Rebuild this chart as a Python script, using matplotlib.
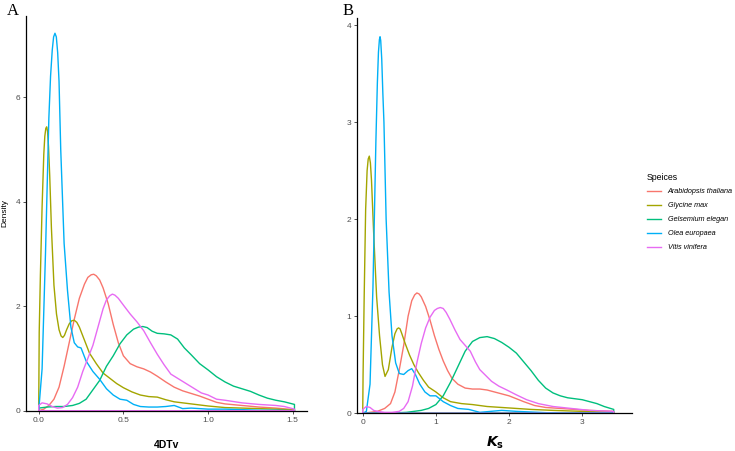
import numpy as np
import matplotlib
matplotlib.use("Agg")
import matplotlib.pyplot as plt
from matplotlib.lines import Line2D

plt.rcParams['font.family'] = ['Liberation Sans', 'DejaVu Sans']

species = ["Arabidopsis thaliana", "Glycine max", "Gelsemium elegan",
           "Olea europaea", "Vitis vinifera"]
colors = ['#F8766D', '#A3A500', '#00BF7D', '#00B0F6', '#E76BF3']

# ---- panel A: 4DTv densities ----
a_ara_x = [0.0, 0.03, 0.06, 0.09, 0.12, 0.15, 0.18, 0.21, 0.24, 0.27, 0.29, 0.31, 0.325, 0.34,
           0.36, 0.38, 0.41, 0.44, 0.47, 0.50, 0.54, 0.58, 0.62, 0.66, 0.70, 0.75, 0.80, 0.85,
           0.90, 0.95, 1.0, 1.05, 1.1, 1.2, 1.3, 1.4, 1.51]
a_ara_y = [0.0, 0.03, 0.1, 0.22, 0.45, 0.85, 1.3, 1.75, 2.15, 2.42, 2.55, 2.6, 2.61, 2.58,
           2.5, 2.35, 2.05, 1.65, 1.3, 1.05, 0.9, 0.84, 0.8, 0.74, 0.66, 0.55, 0.45, 0.38,
           0.33, 0.28, 0.22, 0.16, 0.13, 0.1, 0.07, 0.05, 0.02]

a_gly_x = [0.0, 0.003, 0.01, 0.02, 0.03, 0.036, 0.042, 0.047, 0.052, 0.058, 0.065, 0.075, 0.09,
           0.105, 0.12, 0.132, 0.142, 0.152, 0.165, 0.18, 0.195, 0.21, 0.225, 0.24, 0.27, 0.30,
           0.34, 0.38, 0.42, 0.46, 0.50, 0.55, 0.60, 0.65, 0.70, 0.75, 0.80, 0.85, 0.90, 1.0,
           1.1, 1.2, 1.3, 1.4, 1.51]
a_gly_y = [0.0, 1.5, 2.6, 3.9, 4.9, 5.25, 5.4, 5.43, 5.35, 5.05, 4.5, 3.5, 2.4,
           1.85, 1.55, 1.43, 1.40, 1.44, 1.55, 1.66, 1.72, 1.73, 1.69, 1.6, 1.35, 1.1,
           0.9, 0.72, 0.62, 0.52, 0.44, 0.36, 0.30, 0.27, 0.26, 0.21, 0.17, 0.15, 0.13, 0.09,
           0.06, 0.05, 0.04, 0.03, 0.01]

a_gel_x = [0.0, 0.05, 0.10, 0.15, 0.20, 0.24, 0.28, 0.32, 0.36, 0.40, 0.44, 0.48, 0.52, 0.56,
           0.59, 0.615, 0.64, 0.67, 0.70, 0.74, 0.78, 0.82, 0.86, 0.90, 0.95, 1.0, 1.05, 1.1,
           1.15, 1.2, 1.25, 1.3, 1.35, 1.4, 1.45, 1.51]
a_gel_y = [0.05, 0.07, 0.08, 0.08, 0.1, 0.14, 0.22, 0.4, 0.58, 0.85, 1.05, 1.28, 1.45, 1.56,
           1.6, 1.61, 1.59, 1.52, 1.48, 1.47, 1.45, 1.37, 1.2, 1.07, 0.9, 0.78, 0.65, 0.55,
           0.47, 0.42, 0.37, 0.3, 0.24, 0.2, 0.17, 0.12]

a_ole_x = [0.0, 0.02, 0.04, 0.06, 0.07, 0.08, 0.088, 0.096, 0.104, 0.112, 0.12, 0.13, 0.15,
           0.17, 0.19, 0.21, 0.23, 0.25, 0.28, 0.32, 0.36, 0.40, 0.44, 0.48, 0.52, 0.56, 0.60,
           0.65, 0.70, 0.75, 0.80, 0.85, 0.90, 1.0, 1.1, 1.2, 1.3, 1.4, 1.51]
a_ole_y = [0.0, 0.8, 3.0, 5.6, 6.4, 6.9, 7.15, 7.22, 7.15, 6.85, 6.3, 5.0, 3.2,
           2.3, 1.6, 1.3, 1.22, 1.2, 0.95, 0.75, 0.6, 0.42, 0.3, 0.22, 0.2, 0.12, 0.08,
           0.07, 0.07, 0.08, 0.1, 0.04, 0.05, 0.03, 0.03, 0.02, 0.01, 0.01, 0.0]

a_vit_x = [0.0, 0.02, 0.05, 0.08, 0.11, 0.14, 0.17, 0.20, 0.23, 0.26, 0.29, 0.32, 0.35, 0.38,
           0.40, 0.42, 0.435, 0.45, 0.47, 0.50, 0.54, 0.58, 0.62, 0.66, 0.70, 0.74, 0.78, 0.82,
           0.87, 0.92, 0.96, 1.0, 1.05, 1.1, 1.2, 1.3, 1.4, 1.45, 1.51]
a_vit_y = [0.1, 0.15, 0.13, 0.08, 0.05, 0.06, 0.12, 0.25, 0.45, 0.75, 1.0, 1.25, 1.6, 1.95,
           2.12, 2.2, 2.23, 2.21, 2.15, 2.02, 1.85, 1.7, 1.53, 1.3, 1.08, 0.88, 0.7, 0.62,
           0.52, 0.42, 0.34, 0.3, 0.22, 0.2, 0.15, 0.12, 0.1, 0.08, 0.03]

# ---- panel B: Ks densities ----
b_ara_x = [0.0, 0.1, 0.2, 0.3, 0.38, 0.44, 0.50, 0.56, 0.62, 0.67, 0.71, 0.74, 0.77, 0.80, 0.86,
           0.92, 0.98, 1.04, 1.1, 1.16, 1.22, 1.3, 1.4, 1.5, 1.6, 1.7, 1.8, 1.9, 2.0, 2.1, 2.2,
           2.35, 2.5, 2.7, 2.9, 3.1, 3.43]
b_ara_y = [0.0, 0.01, 0.02, 0.05, 0.1, 0.22, 0.45, 0.7, 1.0, 1.16, 1.22, 1.24, 1.23, 1.2, 1.1,
           0.96, 0.8, 0.66, 0.54, 0.44, 0.36, 0.3, 0.26, 0.25, 0.25, 0.24, 0.22, 0.2, 0.18, 0.15,
           0.12, 0.08, 0.06, 0.05, 0.04, 0.03, 0.02]

b_gly_x = [0.0, 0.005, 0.02, 0.04, 0.06, 0.075, 0.09, 0.105, 0.12, 0.15, 0.19, 0.23, 0.27,
           0.305, 0.35, 0.40, 0.44, 0.47, 0.49, 0.51, 0.53, 0.58, 0.64, 0.70, 0.76, 0.83, 0.90,
           1.0, 1.1, 1.2, 1.35, 1.5, 1.7, 1.9, 2.1, 2.3, 2.6, 3.0, 3.43]
b_gly_y = [0.0, 0.4, 1.2, 2.1, 2.5, 2.62, 2.65, 2.58, 2.4, 1.85, 1.2, 0.8, 0.5,
           0.38, 0.45, 0.68, 0.82, 0.87, 0.88, 0.87, 0.83, 0.72, 0.6, 0.5, 0.42, 0.34, 0.27,
           0.22, 0.16, 0.12, 0.1, 0.09, 0.07, 0.06, 0.05, 0.04, 0.03, 0.02, 0.01]

b_gel_x = [0.0, 0.3, 0.6, 0.8, 0.9, 1.0, 1.1, 1.2, 1.3, 1.4, 1.5, 1.6, 1.7, 1.8, 1.9, 2.0, 2.1,
           2.2, 2.3, 2.4, 2.5, 2.6, 2.7, 2.8, 2.9, 3.0, 3.1, 3.2, 3.3, 3.43]
b_gel_y = [0.0, 0.0, 0.01, 0.03, 0.05, 0.09, 0.18, 0.32, 0.48, 0.64, 0.74, 0.78, 0.79, 0.77, 0.73,
           0.68, 0.62, 0.53, 0.44, 0.34, 0.26, 0.21, 0.18, 0.16, 0.15, 0.14, 0.12, 0.1, 0.07, 0.04]

b_ole_x = [0.0, 0.05, 0.1, 0.14, 0.18, 0.20, 0.215, 0.228, 0.237, 0.246, 0.26, 0.275, 0.29,
           0.32, 0.36, 0.40, 0.45, 0.50, 0.56, 0.62, 0.67, 0.72, 0.78, 0.85, 0.92, 1.0, 1.05,
           1.1, 1.2, 1.3, 1.45, 1.6, 1.75, 1.9, 2.1, 2.4, 2.7, 3.0, 3.43]
b_ole_y = [0.0, 0.02, 0.3, 1.3, 2.8, 3.4, 3.72, 3.85, 3.88, 3.84, 3.65, 3.3, 3.0,
           2.0, 1.25, 0.8, 0.52, 0.41, 0.40, 0.44, 0.46, 0.4, 0.3, 0.22, 0.18, 0.18, 0.15,
           0.12, 0.08, 0.05, 0.04, 0.01, 0.02, 0.03, 0.02, 0.01, 0.0, 0.0, 0.0]

b_vit_x = [0.0, 0.05, 0.1, 0.15, 0.2, 0.3, 0.4, 0.5, 0.56, 0.62, 0.68, 0.74, 0.80, 0.86, 0.92,
           0.98, 1.02, 1.06, 1.1, 1.14, 1.19, 1.26, 1.33, 1.40, 1.47, 1.54, 1.6, 1.68, 1.76,
           1.86, 1.97, 2.1, 2.24, 2.4, 2.6, 2.85, 3.1, 3.43]
b_vit_y = [0.04, 0.07, 0.06, 0.03, 0.02, 0.01, 0.01, 0.02, 0.05, 0.12, 0.28, 0.52, 0.72, 0.88, 0.99,
           1.06, 1.08, 1.09, 1.08, 1.04, 0.97, 0.86, 0.76, 0.7, 0.64, 0.53, 0.45, 0.39, 0.33,
           0.28, 0.24, 0.19, 0.14, 0.1, 0.07, 0.05, 0.03, 0.02]

panel_a = [(a_ara_x, a_ara_y), (a_gly_x, a_gly_y), (a_gel_x, a_gel_y),
           (a_ole_x, a_ole_y), (a_vit_x, a_vit_y)]
panel_b = [(b_ara_x, b_ara_y), (b_gly_x, b_gly_y), (b_gel_x, b_gel_y),
           (b_ole_x, b_ole_y), (b_vit_x, b_vit_y)]


def style_axis(ax):
    for s in ['top', 'right']:
        ax.spines[s].set_visible(False)
    for s in ['left', 'bottom']:
        ax.spines[s].set_linewidth(0.9)
        ax.spines[s].set_color('black')
    ax.tick_params(axis='both', length=2.2, width=0.6, color='#333333',
                   labelsize=6, labelcolor='#4d4d4d', pad=2)


fig = plt.figure(figsize=(7.35, 4.51), dpi=100)

axA = fig.add_axes([26 / 735, 40.3 / 451, 281 / 735, 394.7 / 451])
for (x, y), c in zip(panel_a, colors):
    axA.fill_between(x, y, 0, facecolor='none', edgecolor=c, linewidth=1.0)
axA.set_xlim(-0.075, 1.584)
axA.set_ylim(0, 7.55)
axA.set_xticks([0.0, 0.5, 1.0, 1.5])
axA.set_xticklabels(['0.0', '0.5', '1.0', '1.5'])
axA.set_yticks([0, 2, 4, 6])
style_axis(axA)
axA.set_xlabel('4DTv', fontsize=7.5, fontweight='bold', labelpad=12)
axA.set_ylabel('Density', fontsize=6, labelpad=5)

axB = fig.add_axes([357.3 / 735, 37.7 / 451, 274.7 / 735, 395 / 451])
for (x, y), c in zip(panel_b, colors):
    axB.fill_between(x, y, 0, facecolor='none', edgecolor=c, linewidth=1.0)
axB.set_xlim(-0.074, 3.68)
axB.set_ylim(0, 4.07)
axB.set_xticks([0, 1, 2, 3])
axB.set_yticks([0, 1, 2, 3, 4])
style_axis(axB)
axB.set_xlabel(r'$\mathbfit{K}_{\mathbf{s}}$', fontsize=10, labelpad=6)

fig.text(13 / 735, 1 - 11 / 451, 'A', family='Liberation Serif', fontsize=12,
         ha='center', va='center')
fig.text(348 / 735, 1 - 11 / 451, 'B', family='Liberation Serif', fontsize=12,
         ha='center', va='center')

handles = [Line2D([], [], color=c, linewidth=1.0) for c in colors]
leg = fig.legend(handles, species, loc='upper left', bbox_to_anchor=(640 / 735, 1 - 166 / 451),
                 frameon=False, fontsize=5.2, title='Speices', title_fontsize=6.3,
                 handlelength=1.95, handletextpad=1.0, labelspacing=0.95, alignment='left')
for t in leg.get_texts():
    t.set_fontstyle('italic')

fig.savefig('out.png', dpi=100)
